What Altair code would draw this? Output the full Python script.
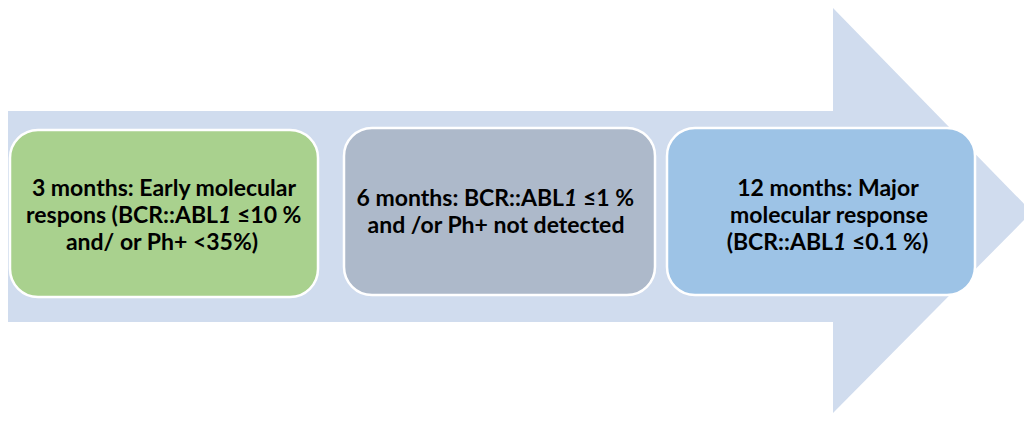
import altair as alt
import pandas as pd

# ---- data ----
stages = ["3 months", "6 months", "12 months"]
box_x0 = [10, 344, 667]
box_x1 = [318, 655, 975]
box_y0 = [130, 128, 128]
box_y1 = [297, 295, 295]
box_colors = ["#A9D18E", "#ADB9CA", "#9DC3E6"]

# plain (non-mixed) text lines
plain_text = ["3 months: Early molecular", "and/ or Ph+ <35%)",
              "and /or Ph+ not detected",
              "12 months: Major", "molecular response"]
plain_x = [164, 162, 496, 828, 829]
plain_y = [196, 250, 233, 196, 223]

# lines containing an italic "1" (ABL1): prefix / italic / suffix
mix_pre = ["respons (BCR::ABL", "6 months: BCR::ABL", "(BCR::ABL"]
mix_ital = ["1", "1", "1"]
mix_post = ["\u226410 %", "\u22641 %", "\u22640.1 %)"]
mix_anchor = [218, 564, 833]
mix_post_x = [237, 583, 852]
mix_y = [223, 206, 250]

# arrow geometry
shaft = pd.DataFrame({"x": [8], "x2": [833], "y": [111], "y2": [322]})
head = pd.DataFrame({"x": [833, 1032], "y": [8, 212], "y2": [413, 212]})

ARROW = "#D0DCEE"
FONT = "Lato"
FS = 23

xs = alt.Scale(domain=[8, 1024], nice=False, zero=False)
ys = alt.Scale(domain=[8, 415], nice=False, zero=False, reverse=True)

shaft_l = alt.Chart(shaft).mark_rect(color=ARROW).encode(
    x=alt.X("x:Q", scale=xs, axis=None), x2="x2",
    y=alt.Y("y:Q", scale=ys, axis=None), y2="y2")

head_l = alt.Chart(head).mark_area(color=ARROW, clip=True).encode(
    x=alt.X("x:Q", scale=xs, axis=None),
    y=alt.Y("y:Q", scale=ys, axis=None), y2="y2")

boxes = pd.DataFrame({"stage": stages, "x": box_x0, "x2": box_x1,
                      "y": box_y0, "y2": box_y1, "c": box_colors})
box_l = alt.Chart(boxes).mark_rect(cornerRadius=28, stroke="white",
                                   strokeWidth=2.5).encode(
    x=alt.X("x:Q", scale=xs, axis=None), x2="x2",
    y=alt.Y("y:Q", scale=ys, axis=None), y2="y2",
    fill=alt.Fill("c:N", scale=None))

def txt(df, align, style="normal", font=FONT):
    return alt.Chart(df).mark_text(font=font, fontSize=FS, fontWeight="bold",
                                   fontStyle=style, color="black",
                                   align=align, baseline="alphabetic").encode(
        x=alt.X("x:Q", scale=xs, axis=None),
        y=alt.Y("y:Q", scale=ys, axis=None),
        text="t:N")

plain_df = pd.DataFrame({"t": plain_text, "x": plain_x, "y": plain_y})
pre_df = pd.DataFrame({"t": mix_pre, "x": mix_anchor, "y": mix_y})
ital_df = pd.DataFrame({"t": mix_ital, "x": mix_anchor, "y": mix_y})
post_df = pd.DataFrame({"t": mix_post, "x": mix_post_x, "y": mix_y})

chart = alt.layer(
    shaft_l, head_l, box_l,
    txt(plain_df, "center"),
    txt(pre_df, "right"),
    txt(ital_df, "left", "italic"),
    txt(post_df, "left"),
).properties(width=1016, height=407, padding=0, background="white",
             autosize=alt.AutoSizeParams(type="none")
).configure_view(stroke=None, strokeWidth=0)

chart.save("out.html", embed_options={"renderer": "svg", "actions": False})
